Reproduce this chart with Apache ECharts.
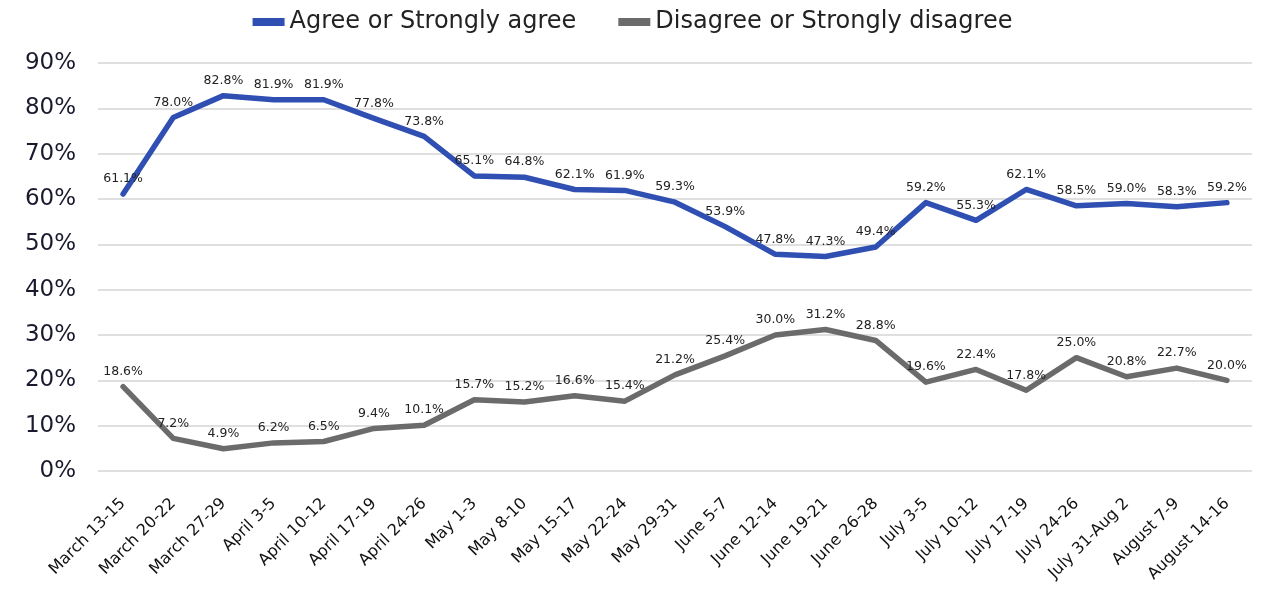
<!DOCTYPE html>
<html>
<head>
<meta charset="utf-8">
<script src="https://cdn.jsdelivr.net/npm/echarts@6/dist/echarts.min.js"></script>
<style>
  html, body { margin: 0; padding: 0; background: #fff; }
  #chart { width: 1265px; height: 601px; }
</style>
</head>
<body>
<div id="chart"></div>
<script>
// Survey weeks
const weeks = [
  'March 13-15', 'March 20-22', 'March 27-29', 'April 3-5', 'April 10-12',
  'April 17-19', 'April 24-26', 'May 1-3', 'May 8-10', 'May 15-17',
  'May 22-24', 'May 29-31', 'June 5-7', 'June 12-14', 'June 19-21',
  'June 26-28', 'July 3-5', 'July 10-12', 'July 17-19', 'July 24-26',
  'July 31-Aug 2', 'August 7-9', 'August 14-16'
];

// Share of respondents (%)
const agree = [61.1, 78.0, 82.8, 81.9, 81.9, 77.8, 73.8, 65.1, 64.8, 62.1, 61.9, 59.3,
  53.9, 47.8, 47.3, 49.4, 59.2, 55.3, 62.1, 58.5, 59.0, 58.3, 59.2];
const disagree = [18.6, 7.2, 4.9, 6.2, 6.5, 9.4, 10.1, 15.7, 15.2, 16.6, 15.4, 21.2,
  25.4, 30.0, 31.2, 28.8, 19.6, 22.4, 17.8, 25.0, 20.8, 22.7, 20.0];

const seriesNames = ['Agree or Strongly agree', 'Disagree or Strongly disagree'];

const FONT = 'DejaVu Sans';
const chart = echarts.init(document.getElementById('chart'));

const lineSeries = (name, data, color) => ({
  name,
  type: 'line',
  data,
  symbol: 'circle',
  symbolSize: 1,
  showSymbol: true,
  lineStyle: { width: 5.5, color, cap: 'round', join: 'round' },
  itemStyle: { color },
  label: {
    show: true,
    position: 'top',
    distance: 8,
    fontFamily: FONT,
    fontSize: 12.5,
    color: '#222',
    formatter: p => p.value.toFixed(1) + '%'
  }
});

chart.setOption({
  animation: false,
  textStyle: { fontFamily: FONT },
  legend: {
    top: 5,
    left: 'center',
    itemWidth: 32,
    itemHeight: 8,
    itemGap: 42,
    icon: 'rect',
    textStyle: { fontFamily: FONT, fontSize: 24, color: '#222' },
    data: seriesNames
  },
  grid: { left: 98, right: 13, top: 63, bottom: 130 },
  xAxis: {
    type: 'category',
    data: weeks,
    boundaryGap: true,
    axisLine: { show: false },
    axisTick: { show: false },
    axisLabel: {
      rotate: 45,
      interval: 0,
      margin: 30,
      fontFamily: FONT,
      fontSize: 16,
      color: '#111'
    }
  },
  yAxis: {
    type: 'value',
    min: 0,
    max: 90,
    interval: 10,
    axisLine: { show: false },
    axisTick: { show: false },
    axisLabel: {
      formatter: '{value}%',
      fontFamily: FONT,
      fontSize: 23,
      color: '#1a1a2e',
      margin: 22
    },
    splitLine: { lineStyle: { color: '#d4d4d4', width: 1.5 } }
  },
  series: [
    lineSeries(seriesNames[0], agree, '#2f4fb3'),
    lineSeries(seriesNames[1], disagree, '#6b6b6b')
  ]
});
</script>
</body>
</html>
